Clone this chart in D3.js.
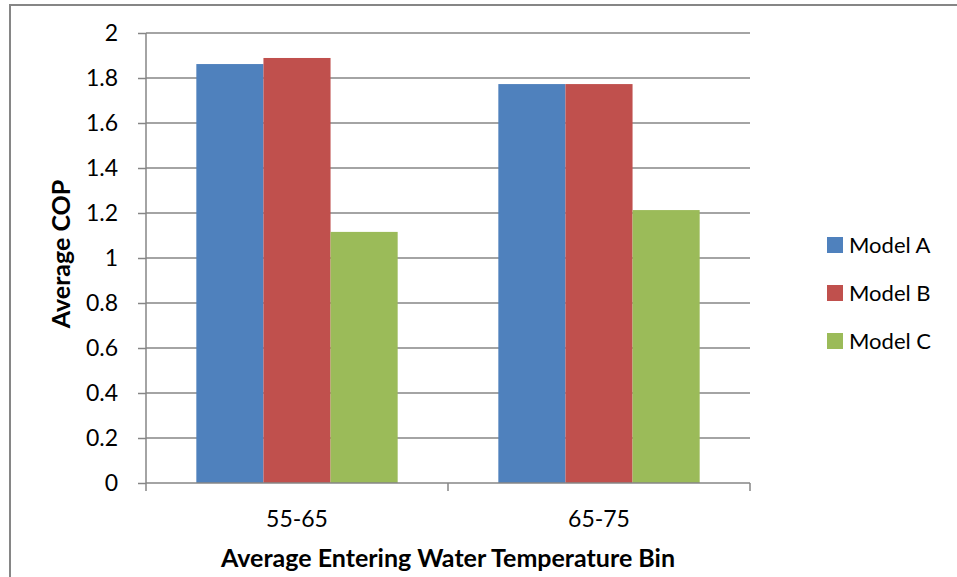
<!DOCTYPE html>
<html>
<head>
<meta charset="utf-8">
<script src="https://cdn.jsdelivr.net/npm/d3@7"></script>
<style>
  html, body { margin: 0; padding: 0; background: #fff; }
  svg { display: block; font-family: Lato, "Open Sans", "Liberation Sans", sans-serif; }
</style>
</head>
<body>
<svg id="chart" width="957" height="577"></svg>
<script>
// Average COP by entering water temperature bin
const categories = ["55-65", "65-75"];
const seriesNames = ["Model A", "Model B", "Model C"];
const modelA = [1.862, 1.773];
const modelB = [1.889, 1.773];
const modelC = [1.116, 1.213];
const yTicks = [0, 0.2, 0.4, 0.6, 0.8, 1, 1.2, 1.4, 1.6, 1.8, 2];
const colors = ["#4f81bd", "#c0504d", "#9bbb59"];

const seriesValues = [modelA, modelB, modelC];

const svg = d3.select("#chart");
const W = 957, H = 577;
const plot = { left: 146, top: 33, right: 750, bottom: 483 };

// outer chart border
svg.append("rect")
  .attr("x", 10).attr("y", 5)
  .attr("width", W - 10 + 2).attr("height", H)
  .attr("fill", "#fff").attr("stroke", "#868686").attr("stroke-width", 2);

const x = d3.scaleBand().domain(categories).range([plot.left, plot.right]).paddingInner(0).paddingOuter(0);
const inner = d3.scaleBand().domain(seriesNames).range([0, x.bandwidth()]).paddingInner(0)
  .paddingOuter(0.75);
const y = d3.scaleLinear().domain([0, 2]).range([plot.bottom, plot.top]);

// gridlines
svg.append("g").selectAll("line").data(yTicks.filter(d => d > 0)).join("line")
  .attr("x1", plot.left).attr("x2", plot.right)
  .attr("y1", d => y(d)).attr("y2", d => y(d))
  .attr("stroke", "#868686").attr("stroke-width", 1.5);

// bars
const groups = svg.append("g").selectAll("g").data(categories).join("g")
  .attr("transform", d => `translate(${x(d)},0)`);
groups.selectAll("rect")
  .data((c, i) => seriesNames.map((s, j) => ({ s, v: seriesValues[j][i], j })))
  .join("rect")
  .attr("x", d => inner(d.s))
  .attr("width", inner.bandwidth())
  .attr("y", d => y(d.v))
  .attr("height", d => y(0) - y(d.v))
  .attr("fill", d => colors[d.j]);

// y axis
const yAxis = svg.append("g").attr("transform", `translate(${plot.left},0)`)
  .call(d3.axisLeft(y).tickValues(yTicks).tickFormat(d3.format("~g")).tickSize(8).tickPadding(20))
  .attr("font-family", null);
yAxis.select(".domain").attr("stroke", "#868686").attr("stroke-width", 1.5).attr("d", `M0,${plot.top}V${plot.bottom}`);
yAxis.selectAll(".tick line").attr("stroke", "#868686").attr("stroke-width", 1.5);
yAxis.selectAll(".tick text").attr("font-size", 23).attr("fill", "#000");

// x axis
const xAxis = svg.append("g").attr("transform", `translate(0,${plot.bottom})`)
  .call(d3.axisBottom(x).tickSize(0).tickPadding(28))
  .attr("font-family", null);
xAxis.select(".domain").attr("stroke", "#868686").attr("stroke-width", 1.5).attr("d", `M${plot.left},0H${plot.right}`);
xAxis.selectAll(".tick text").attr("font-size", 23).attr("fill", "#000");
xAxis.append("g").selectAll("line")
  .data([plot.left, ...categories.map(c => x(c) + x.bandwidth())])
  .join("line")
  .attr("x1", d => d).attr("x2", d => d).attr("y1", 0).attr("y2", 8)
  .attr("stroke", "#868686").attr("stroke-width", 1.5);

// axis titles
svg.append("text")
  .attr("x", (plot.left + plot.right) / 2).attr("y", 567)
  .attr("text-anchor", "middle").attr("font-size", 25).attr("font-weight", "bold")
  .text("Average Entering Water Temperature Bin");
svg.append("text")
  .attr("transform", `translate(70,254) rotate(-90)`)
  .attr("text-anchor", "middle").attr("font-size", 25).attr("font-weight", "bold")
  .text("Average COP");

// legend
const legend = svg.append("g").selectAll("g").data(seriesNames).join("g")
  .attr("transform", (d, i) => `translate(827,${245 + i * 48})`);
legend.append("rect").attr("x", 0).attr("y", -8).attr("width", 16).attr("height", 16)
  .attr("fill", (d, i) => colors[i]);
legend.append("text").attr("x", 22).attr("y", 8).attr("font-size", 22).attr("fill", "#000")
  .text(d => d);
</script>
</body>
</html>
